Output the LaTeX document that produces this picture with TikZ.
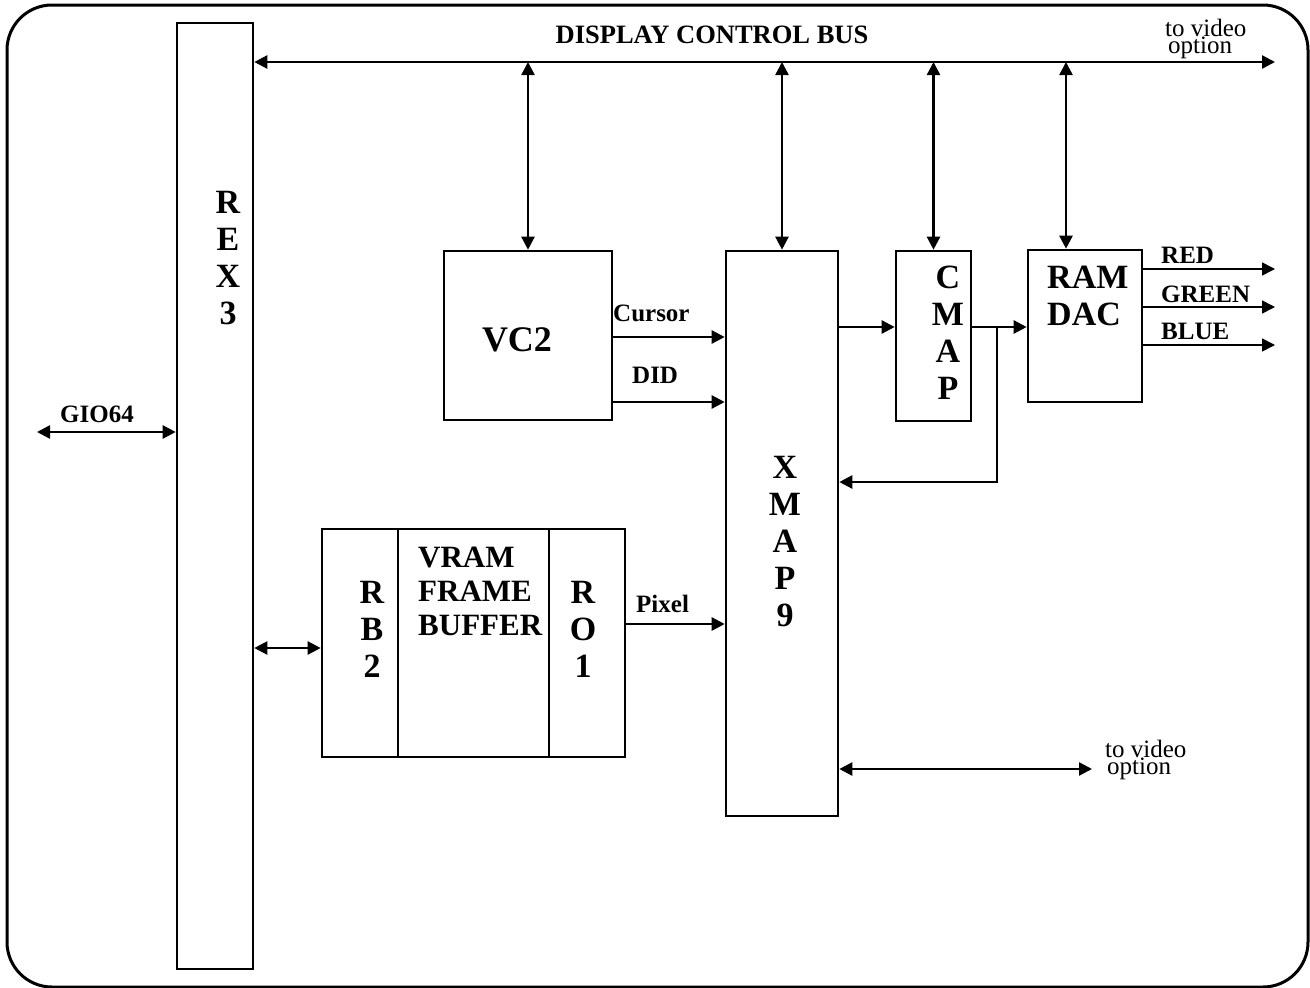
\documentclass[tikz,border=0pt]{standalone}
\usepackage{fontspec}
\setmainfont{Liberation Serif}
\usetikzlibrary{arrows.meta}
\begin{document}
\begin{tikzpicture}[x=1pt,y=-1pt,
  box/.style={draw, line width=2.6pt, inner sep=0pt},
  arr/.style={line width=2.4pt, -{Triangle[length=13pt,width=13pt]}},
  darr/.style={line width=2.4pt, {Triangle[length=13pt,width=13pt]}-{Triangle[length=13pt,width=13pt]}},
  arrthin/.style={line width=1.6pt, -{Triangle[length=13pt,width=13pt]}},
  big/.style={font=\fontsize{34}{37}\selectfont\bfseries, align=center, inner sep=0pt},
  mid/.style={font=\fontsize{31}{34}\selectfont\bfseries, align=left, inner sep=0pt},
  lab/.style={font=\fontsize{25}{25}\selectfont\bfseries, inner sep=0pt},
  reg/.style={font=\fontsize{25}{25}\selectfont, inner sep=0pt}]
\useasboundingbox (0,0) rectangle (1310,988);
\draw[line width=3pt, rounded corners=45pt] (7,5) rectangle (1308,987);

% boxes
\node[box, minimum width=76pt, minimum height=946pt] (rex) at (215,496) {};
\node[box, minimum width=168pt, minimum height=169pt] (vc2) at (528,335.5) {};
\node[box, minimum width=112pt, minimum height=565pt] (xmap) at (782,533.5) {};
\node[box, minimum width=75pt, minimum height=170pt] (cmap) at (933.5,336) {};
\node[box, minimum width=114pt, minimum height=152pt] (ramdac) at (1085,326) {};
\node[box, minimum width=76pt, minimum height=228pt] (rb2) at (360,643) {};
\node[box, minimum width=151pt, minimum height=228pt] (vram) at (473.5,643) {};
\node[box, minimum width=76pt, minimum height=228pt] (ro1) at (587,643) {};

% box texts (base = baseline of last line)
\node[big, anchor=base] (rext) at (228,324) {R\\E\\X\\3};
\node[big, anchor=base, font=\fontsize{36}{36}\selectfont\bfseries] (vc2t) at (517,351) {VC2};
\node[big, anchor=base] (xmapt) at (785,626) {X\\M\\A\\P\\9};
\node[big, anchor=base] (cmapt) at (948,399) {C\\M\\A\\P};
\node[big, anchor=base west, align=left] (ramdact) at (1047,325) {RAM\\DAC};
\node[big, anchor=base] (rb2t) at (372,677) {R\\B\\2};
\node[mid, anchor=base west] (vramt) at (418,635) {VRAM\\FRAME\\BUFFER};
\node[big, anchor=base] (ro1t) at (583,677) {R\\O\\1};

% display control bus
\coordinate (busend) at (1275,62);
\draw[darr] (rex.east |- busend) -- (busend);
\node[lab, anchor=base, font=\fontsize{26.5}{26.5}\selectfont\bfseries] (bust) at (712,43) {DISPLAY CONTROL BUS};
\node[reg, anchor=base west] (vid1) at (1165,53) {\vbox{\offinterlineskip\hbox{to video}\hbox{\kern3pt option}}};

\coordinate (tap1) at (528,62);
\coordinate (tap2) at (782,62);
\coordinate (tap3) at (933.5,62);
\coordinate (tap4) at (1066,62);
\draw[darr] (tap1) -- (vc2.north);
\draw[darr] (tap2) -- (xmap.north);
\draw[darr] (tap3) -- (cmap.north);
\draw[darr] (tap4) -- (tap4 |- ramdac.north);

% GIO64
\coordinate (gio) at (37,432);
\draw[darr] (gio) -- (rex.west |- gio);
\node[lab, anchor=base] (giot) at (97,422) {GIO64};

% REX3 to RB2
\draw[darr] (rex.east |- 0,648) -- (rb2.west |- 0,648);

% VC2 to XMAP
\draw[arr] (vc2.east |- 0,337) -- (xmap.west |- 0,337);
\node[lab, anchor=base west] (curt) at (613,321) {Cursor};
\draw[arr] (vc2.east |- 0,402) -- (xmap.west |- 0,402);
\node[lab, anchor=base west] (didt) at (632,383) {DID};

% Pixel
\draw[arr] (ro1.east |- 0,624) -- (xmap.west |- 0,624);
\node[lab, anchor=base west] (pixt) at (636,612) {Pixel};

% XMAP -> CMAP -> RAMDAC, feedback
\draw[arr] (xmap.east |- 0,327) -- (cmap.west |- 0,327);
\draw[arr] (cmap.east |- 0,327) -- (ramdac.west |- 0,327);
\coordinate (fb) at (997,327);
\draw[arr] (fb) |- (xmap.east |- 0,482);

% RGB outputs
\coordinate (redend) at (1275,269);
\coordinate (greenend) at (1275,307);
\coordinate (blueend) at (1275,345);
\draw[arrthin] (ramdac.east |- redend) -- (redend);
\draw[arrthin] (ramdac.east |- greenend) -- (greenend);
\draw[arrthin] (ramdac.east |- blueend) -- (blueend);
\node[lab, anchor=base west] (redt) at (1161,263) {RED};
\node[lab, anchor=base west] (greent) at (1161,302) {GREEN};
\node[lab, anchor=base west] (bluet) at (1161,339) {BLUE};

% lower video option
\coordinate (vid) at (1092,769);
\draw[darr] (xmap.east |- vid) -- (vid);
\node[reg, anchor=base west] (vid2) at (1105,774) {\vbox{\offinterlineskip\hbox{to video}\hbox{\kern2pt option}}};
\end{tikzpicture}
\end{document}
